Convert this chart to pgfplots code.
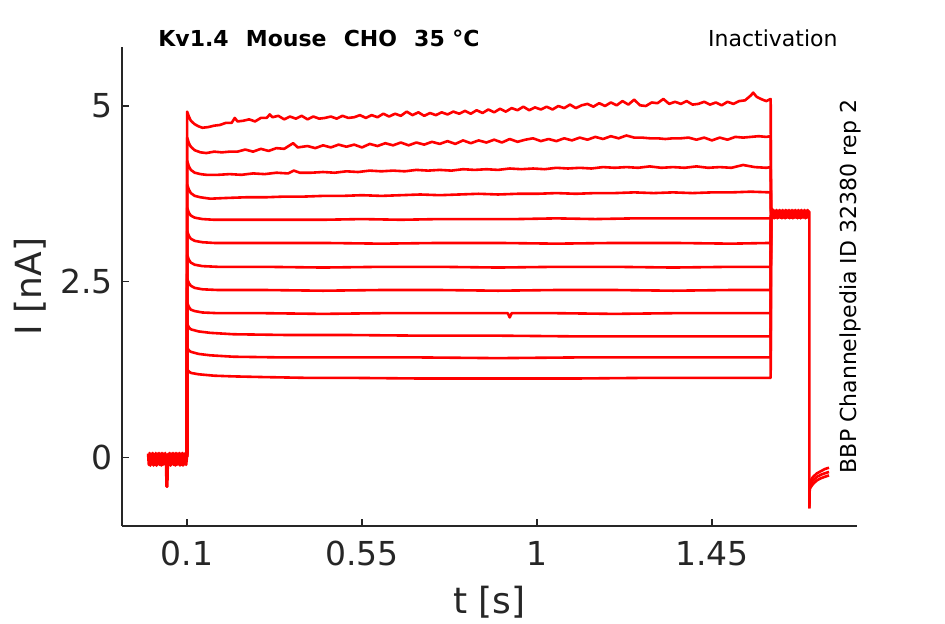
\documentclass[border=0pt]{standalone}
\usepackage{fontspec}
\setmainfont{DejaVu Sans}
\usepackage{pgfplots}
\pgfplotsset{compat=1.18}
\definecolor{axgray}{HTML}{262626}
\tikzset{tr/.style={color=red, line width=1.3pt, line join=round}}
\begin{document}
\begin{tikzpicture}
\path[use as bounding box] (0,0) rectangle (472.5pt,312pt);
\begin{axis}[
  at={(61pt,49pt)}, anchor=south west,
  scale only axis, width=367.5pt, height=239.5pt,
  xmin=-0.067, xmax=1.823, ymin=-0.98, ymax=5.84,
  axis x line*=bottom, axis y line*=left,
  axis line style={color=axgray, line width=0.6pt},
  tick align=inside,
  xtick={0.1,0.55,1,1.45}, xticklabels={0.1,0.55,1,1.45},
  ytick={0,2.5,5}, yticklabels={0,2.5,5},
  tick style={color=axgray, line width=0.6pt},
  major tick length=3.5pt,
  ticklabel style={font=\fontsize{16.5}{18}\selectfont, color=axgray},
  xticklabel style={yshift=-4pt},
  yticklabel style={xshift=-1pt},
  xlabel={t [s]}, ylabel={I [nA]},
  label style={font=\fontsize{18}{20}\selectfont, color=axgray},
  xlabel style={at={(axis description cs:0.5,-0.16)}, anchor=center},
  ylabel style={at={(axis description cs:-0.125,0.5)}, anchor=center},
  clip=false,
]
% baseline before step
\addplot[tr] coordinates {(0.000,0.05)(0.002,-0.11)(0.004,0.06)(0.006,-0.12)(0.008,0.05)(0.010,-0.10)(0.012,0.06)(0.014,-0.12)(0.016,0.04)(0.018,-0.11)(0.020,0.06)(0.022,-0.12)(0.024,0.05)(0.026,-0.10)(0.028,0.06)(0.030,-0.11)(0.032,0.05)(0.034,-0.12)(0.036,0.06)(0.038,-0.11)(0.040,0.05)(0.042,-0.10)(0.044,0.06)(0.046,-0.05)(0.0475,-0.42)(0.0495,-0.42)(0.051,-0.05)(0.052,0.05)(0.054,-0.11)(0.056,0.06)(0.058,-0.12)(0.060,0.05)(0.062,-0.10)(0.064,0.06)(0.066,-0.11)(0.068,0.05)(0.070,-0.12)(0.072,0.06)(0.074,-0.11)(0.076,0.05)(0.078,-0.10)(0.080,0.06)(0.082,-0.12)(0.084,0.05)(0.086,-0.11)(0.088,0.06)(0.090,-0.12)(0.092,0.05)(0.094,-0.10)(0.096,0.06)(0.098,-0.11)(0.100,0.0)};
% trace 1
\addplot[tr] coordinates {(0.1,0)(0.1005,4.92)(0.105,4.85)(0.11,4.79)(0.12,4.74)(0.13,4.71)(0.14,4.69)(0.155,4.70)(0.17,4.72)(0.185,4.73)(0.20,4.76)(0.215,4.76)(0.223,4.83)(0.23,4.78)(0.245,4.79)(0.26,4.81)(0.275,4.78)(0.29,4.83)(0.305,4.83)(0.313,4.88)(0.32,4.84)(0.335,4.86)(0.35,4.81)(0.365,4.85)(0.38,4.82)(0.395,4.86)(0.41,4.81)(0.425,4.85)(0.44,4.82)(0.455,4.83)(0.47,4.85)(0.485,4.82)(0.50,4.86)(0.515,4.83)(0.53,4.84)(0.545,4.87)(0.56,4.83)(0.575,4.87)(0.59,4.84)(0.605,4.89)(0.62,4.85)(0.635,4.89)(0.65,4.86)(0.665,4.92)(0.68,4.87)(0.695,4.91)(0.71,4.86)(0.725,4.90)(0.74,4.87)(0.755,4.91)(0.77,4.88)(0.785,4.92)(0.80,4.89)(0.815,4.93)(0.83,4.89)(0.845,4.94)(0.86,4.90)(0.875,4.95)(0.89,4.91)(0.905,4.96)(0.92,4.92)(0.935,4.97)(0.95,4.94)(0.965,4.99)(0.98,4.94)(0.995,4.98)(1.01,4.95)(1.025,4.99)(1.04,4.95)(1.055,5.00)(1.07,4.97)(1.085,5.02)(1.10,4.97)(1.115,5.01)(1.13,5.03)(1.145,4.99)(1.16,5.04)(1.175,5.00)(1.19,5.05)(1.205,5.01)(1.22,5.07)(1.235,5.02)(1.25,5.09)(1.265,5.01)(1.28,5.00)(1.295,5.05)(1.31,5.04)(1.325,5.10)(1.34,5.03)(1.355,5.06)(1.37,5.03)(1.385,5.07)(1.40,5.02)(1.415,5.03)(1.43,5.06)(1.445,5.02)(1.46,5.05)(1.475,5.01)(1.49,5.06)(1.505,5.03)(1.52,5.07)(1.535,5.08)(1.55,5.15)(1.556,5.19)(1.565,5.13)(1.58,5.09)(1.59,5.07)(1.601,5.10)(1.602,3.45)};
% trace 2
\addplot[tr] coordinates {(0.1,0)(0.1005,4.55)(0.105,4.47)(0.11,4.42)(0.12,4.37)(0.135,4.34)(0.15,4.33)(0.17,4.35)(0.19,4.34)(0.21,4.35)(0.23,4.35)(0.25,4.38)(0.27,4.35)(0.29,4.39)(0.31,4.36)(0.33,4.40)(0.35,4.39)(0.373,4.47)(0.385,4.41)(0.41,4.43)(0.43,4.40)(0.45,4.44)(0.47,4.41)(0.49,4.45)(0.51,4.42)(0.53,4.45)(0.55,4.41)(0.57,4.46)(0.59,4.43)(0.61,4.47)(0.63,4.44)(0.65,4.48)(0.67,4.44)(0.69,4.48)(0.71,4.45)(0.73,4.49)(0.75,4.46)(0.77,4.50)(0.79,4.46)(0.81,4.51)(0.83,4.47)(0.85,4.51)(0.87,4.48)(0.89,4.52)(0.91,4.48)(0.93,4.53)(0.95,4.49)(0.97,4.52)(0.99,4.54)(1.01,4.50)(1.03,4.53)(1.05,4.50)(1.07,4.54)(1.09,4.51)(1.11,4.55)(1.13,4.52)(1.15,4.56)(1.17,4.53)(1.19,4.57)(1.21,4.54)(1.23,4.58)(1.25,4.55)(1.27,4.55)(1.29,4.54)(1.31,4.54)(1.33,4.53)(1.35,4.54)(1.37,4.54)(1.39,4.55)(1.41,4.52)(1.43,4.55)(1.45,4.51)(1.47,4.55)(1.49,4.52)(1.51,4.56)(1.53,4.55)(1.55,4.56)(1.57,4.57)(1.59,4.56)(1.601,4.57)(1.602,3.45)};
% trace 3
\addplot[tr] coordinates {(0.1,0)(0.1005,4.22)(0.105,4.14)(0.11,4.09)(0.12,4.05)(0.135,4.03)(0.15,4.02)(0.18,4.02)(0.21,4.03)(0.24,4.02)(0.27,4.04)(0.30,4.03)(0.33,4.05)(0.36,4.04)(0.375,4.08)(0.39,4.05)(0.42,4.05)(0.45,4.06)(0.48,4.05)(0.51,4.07)(0.54,4.06)(0.57,4.08)(0.60,4.07)(0.63,4.08)(0.66,4.07)(0.69,4.09)(0.72,4.08)(0.75,4.09)(0.78,4.08)(0.81,4.10)(0.84,4.09)(0.87,4.10)(0.90,4.09)(0.93,4.11)(0.96,4.10)(0.99,4.11)(1.02,4.10)(1.05,4.12)(1.08,4.11)(1.11,4.12)(1.14,4.11)(1.17,4.13)(1.20,4.12)(1.23,4.13)(1.26,4.12)(1.29,4.14)(1.32,4.12)(1.35,4.13)(1.38,4.12)(1.41,4.14)(1.44,4.12)(1.47,4.13)(1.50,4.12)(1.53,4.16)(1.56,4.13)(1.59,4.12)(1.601,4.13)(1.602,3.45)};
% trace 4
\addplot[tr] coordinates {(0.1,0)(0.1005,3.88)(0.105,3.81)(0.11,3.76)(0.12,3.72)(0.135,3.70)(0.16,3.68)(0.20,3.69)(0.25,3.70)(0.30,3.70)(0.35,3.71)(0.40,3.71)(0.45,3.72)(0.50,3.72)(0.55,3.73)(0.60,3.72)(0.65,3.73)(0.70,3.74)(0.75,3.73)(0.80,3.74)(0.85,3.75)(0.90,3.74)(0.95,3.75)(1.00,3.75)(1.05,3.76)(1.10,3.75)(1.15,3.76)(1.20,3.76)(1.25,3.77)(1.30,3.76)(1.35,3.77)(1.40,3.76)(1.45,3.77)(1.50,3.77)(1.55,3.78)(1.601,3.77)(1.602,3.45)};
% trace 5
\addplot[tr] coordinates {(0.1,0)(0.1005,3.55)(0.105,3.48)(0.11,3.44)(0.12,3.41)(0.14,3.39)(0.17,3.38)(0.25,3.38)(0.35,3.38)(0.45,3.38)(0.55,3.39)(0.65,3.38)(0.75,3.39)(0.85,3.39)(0.95,3.39)(1.05,3.40)(1.15,3.39)(1.25,3.40)(1.35,3.40)(1.45,3.40)(1.55,3.40)(1.601,3.40)(1.602,3.45)};
% trace 6
\addplot[tr] coordinates {(0.1,0)(0.1005,3.22)(0.105,3.15)(0.11,3.11)(0.12,3.08)(0.14,3.06)(0.17,3.05)(0.30,3.05)(0.45,3.05)(0.60,3.04)(0.75,3.05)(0.90,3.05)(1.05,3.04)(1.20,3.05)(1.35,3.05)(1.50,3.04)(1.601,3.05)(1.602,3.45)};
% trace 7
\addplot[tr] coordinates {(0.1,0)(0.1005,2.88)(0.105,2.81)(0.11,2.77)(0.12,2.74)(0.14,2.72)(0.18,2.71)(0.30,2.71)(0.45,2.70)(0.60,2.71)(0.75,2.71)(0.90,2.70)(1.05,2.71)(1.20,2.71)(1.35,2.70)(1.50,2.71)(1.601,2.71)(1.602,3.45)};
% trace 8
\addplot[tr] coordinates {(0.1,0)(0.1005,2.54)(0.105,2.48)(0.11,2.44)(0.12,2.41)(0.14,2.39)(0.18,2.38)(0.30,2.38)(0.45,2.37)(0.60,2.38)(0.75,2.38)(0.90,2.37)(1.05,2.38)(1.20,2.38)(1.35,2.37)(1.50,2.38)(1.601,2.38)(1.602,3.45)};
% trace 9
\addplot[tr] coordinates {(0.1,0)(0.1005,2.20)(0.105,2.14)(0.11,2.10)(0.12,2.08)(0.14,2.06)(0.18,2.05)(0.30,2.05)(0.45,2.04)(0.60,2.05)(0.75,2.05)(0.925,2.05)(0.93,1.99)(0.935,2.05)(1.05,2.05)(1.20,2.04)(1.35,2.05)(1.50,2.05)(1.601,2.05)(1.602,3.45)};
% trace 10
\addplot[tr] coordinates {(0.1,0)(0.1005,1.90)(0.105,1.85)(0.11,1.82)(0.13,1.79)(0.16,1.77)(0.22,1.75)(0.35,1.74)(0.50,1.74)(0.70,1.73)(0.90,1.73)(1.10,1.72)(1.30,1.72)(1.50,1.72)(1.601,1.72)(1.602,3.45)};
% trace 11
\addplot[tr] coordinates {(0.1,0)(0.1005,1.56)(0.105,1.52)(0.11,1.50)(0.13,1.47)(0.16,1.45)(0.22,1.43)(0.35,1.42)(0.50,1.42)(0.70,1.42)(0.90,1.41)(1.10,1.42)(1.30,1.42)(1.50,1.42)(1.601,1.42)(1.602,3.45)};
% trace 12
\addplot[tr] coordinates {(0.1,0)(0.1005,1.25)(0.105,1.22)(0.11,1.20)(0.13,1.18)(0.17,1.16)(0.22,1.15)(0.30,1.14)(0.40,1.13)(0.50,1.13)(0.70,1.12)(0.90,1.12)(1.10,1.12)(1.30,1.13)(1.50,1.13)(1.601,1.13)(1.602,3.45)};
% band after step
\addplot[tr] coordinates {(1.602,3.45)(1.604,3.54)(1.606,3.41)(1.608,3.52)(1.610,3.40)(1.612,3.51)(1.614,3.41)(1.616,3.52)(1.618,3.40)(1.620,3.51)(1.622,3.41)(1.624,3.52)(1.626,3.41)(1.628,3.51)(1.630,3.40)(1.632,3.52)(1.634,3.41)(1.636,3.51)(1.638,3.40)(1.640,3.52)(1.642,3.41)(1.644,3.51)(1.646,3.41)(1.648,3.52)(1.650,3.40)(1.652,3.51)(1.654,3.41)(1.656,3.52)(1.658,3.40)(1.660,3.51)(1.662,3.41)(1.664,3.52)(1.666,3.41)(1.668,3.51)(1.670,3.40)(1.672,3.52)(1.674,3.41)(1.676,3.51)(1.678,3.40)(1.680,3.52)(1.682,3.41)(1.684,3.51)(1.686,3.41)(1.688,3.52)(1.690,3.40)(1.692,3.51)(1.694,3.41)(1.696,3.52)(1.698,3.41)(1.700,3.50)(1.7005,3.45)(1.7005,-0.73)};
% tails
\addplot[tr] coordinates {(1.7005,-0.73)(1.7015,-0.36)(1.705,-0.32)(1.71,-0.28)(1.72,-0.23)(1.73,-0.20)(1.74,-0.17)(1.751,-0.15)};
\addplot[tr] coordinates {(1.7005,-0.70)(1.7015,-0.41)(1.705,-0.37)(1.71,-0.33)(1.72,-0.28)(1.73,-0.25)(1.74,-0.23)(1.751,-0.21)};
\addplot[tr] coordinates {(1.7005,-0.65)(1.7015,-0.45)(1.705,-0.42)(1.71,-0.38)(1.72,-0.33)(1.73,-0.30)(1.74,-0.28)(1.751,-0.26)};
% texts
\node[anchor=base west, inner sep=0pt, font=\fontsize{11}{13}\selectfont\bfseries] at (axis description cs:0.049,1.0) {Kv1.4\hspace{0.78em}Mouse\hspace{0.78em}CHO\hspace{0.78em}35 °C};
\node[anchor=base east, inner sep=0pt, font=\fontsize{11}{13}\selectfont] at (axis description cs:0.974,1.0) {Inactivation};
\node[rotate=90, anchor=center, inner sep=0pt, font=\fontsize{11}{13}\selectfont] at (axis description cs:0.991,0.5) {BBP Channelpedia ID 32380 rep 2};
\end{axis}
\end{tikzpicture}
\end{document}
